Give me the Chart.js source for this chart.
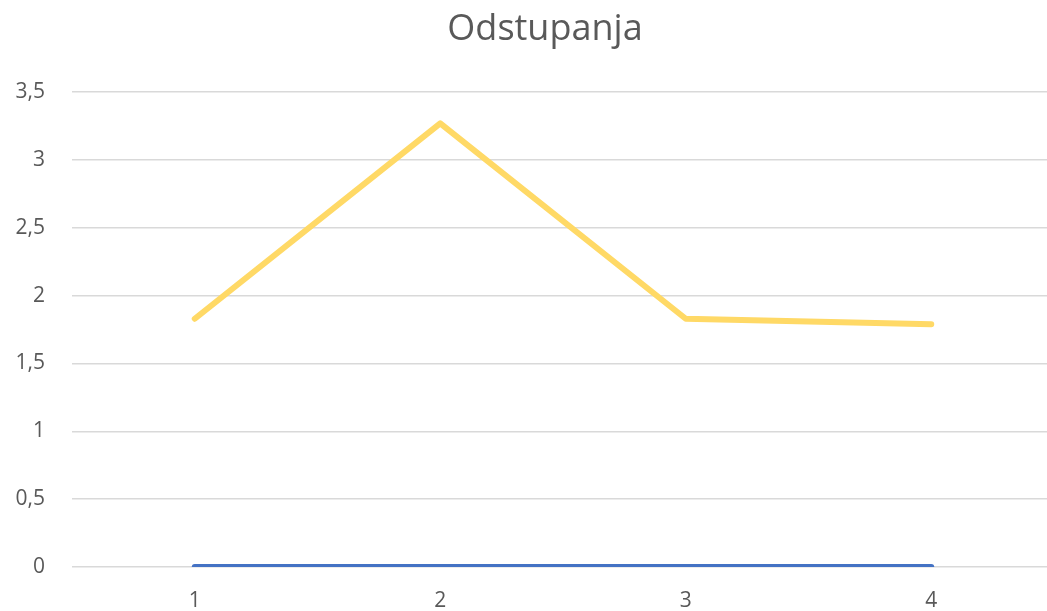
<!DOCTYPE html>
<html>
<head>
<meta charset="utf-8">
<script src="https://cdn.jsdelivr.net/npm/chart.js@4/dist/chart.umd.min.js"></script>
<style>
    html, body { margin: 0; padding: 0; background: #fff; overflow: hidden; }
    #wrap { width: 1054px; height: 611px; }
</style>
</head>
<body>
<div id="wrap"><canvas id="chart"></canvas></div>
<script>
// Podaci
const categories = ['1', '2', '3', '4'];
const seriesBlue = [0, 0, 0, 0];
const seriesYellow = [1.83, 3.27, 1.83, 1.79];
const yTicks = [0, 0.5, 1, 1.5, 2, 2.5, 3, 3.5];

const TEXT = '#595959';
const GRID = '#d9d9d9';

// naslov u originalu je malo desno od sredine
const titleShift = {
    id: 'titleShift',
    afterLayout(chart) {
        if (chart.titleBlock) chart.titleBlock.left += 36;
    }
};

const ctx = document.getElementById('chart').getContext('2d');
new Chart(ctx, {
    type: 'line',
    data: {
        labels: categories,
        datasets: [
            {
                label: 'Serija 1',
                data: seriesBlue,
                borderColor: '#4472c4',
                backgroundColor: '#4472c4',
                borderWidth: 6,
                borderCapStyle: 'round',
                pointRadius: 0,
                tension: 0
            },
            {
                label: 'Serija 2',
                data: seriesYellow,
                borderColor: '#ffd966',
                backgroundColor: '#ffd966',
                borderWidth: 6,
                borderCapStyle: 'round',
                borderJoinStyle: 'round',
                pointRadius: 0,
                tension: 0
            }
        ]
    },
    options: {
        responsive: true,
        maintainAspectRatio: false,
        animation: false,
        layout: { padding: 0 },
        plugins: {
            legend: { display: false },
            tooltip: { enabled: false },
            title: {
                display: true,
                text: 'Odstupanja',
                color: TEXT,
                font: { family: '"Open Sans", sans-serif', size: 36, weight: 'normal' },
                padding: { top: 8, bottom: 41 }
            }
        },
        scales: {
            x: {
                offset: true,
                grid: { display: false, drawTicks: false },
                border: { display: false },
                ticks: {
                    color: TEXT,
                    padding: 21,
                    font: { family: '"Open Sans", sans-serif', size: 21 }
                },
                afterFit: (scale) => { scale.height = 44; }
            },
            y: {
                min: 0,
                max: 3.5,
                afterBuildTicks: (scale) => { scale.ticks = yTicks.map(v => ({ value: v })); },
                grid: { color: GRID, lineWidth: 1.5, drawTicks: false },
                border: { display: false },
                ticks: {
                    color: TEXT,
                    padding: 27,
                    font: { family: '"Open Sans", sans-serif', size: 21 },
                    callback: (v) => String(v).replace('.', ',')
                },
                afterFit: (scale) => { scale.width = 72; }
            }
        }
    },
    plugins: [titleShift]
});
</script>
</body>
</html>
